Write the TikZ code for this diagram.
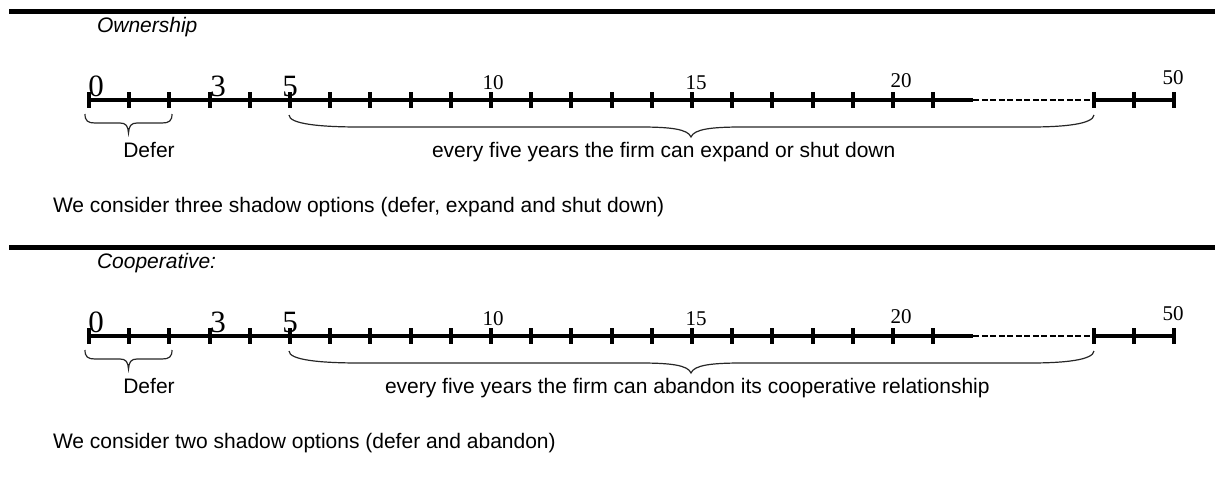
\documentclass[tikz,border=0pt]{standalone}
\usepackage{fontspec}
\setmainfont{Liberation Serif}
\setsansfont{Liberation Sans}
\usepackage{tikz}

\begin{document}
\begin{tikzpicture}[x=1pt,y=-1pt,
  every node/.style={inner sep=0pt, outer sep=0pt},
  rule/.style={line width=4.5pt},
  axis/.style={line width=3.6pt},
  axisdash/.style={line width=2pt, dash pattern=on 6pt off 2.5pt},
  tickmark/.style={line width=4pt},
  curly/.style={line width=1.2pt, black!85},
  bignum/.style={font=\fontsize{31}{31}\selectfont, anchor=base},
  smallnum/.style={font=\fontsize{21}{21}\selectfont, anchor=base},
  txt/.style={font=\sffamily\fontsize{21}{21}\selectfont, anchor=base west},
  ttl/.style={font=\sffamily\itshape\fontsize{21}{21}\selectfont, anchor=base west}]

\useasboundingbox (0,0) rectangle (1215,480);

% ownership
\begin{scope}
  \coordinate (ra) at (9,11.7);
  \coordinate (rb) at (1215,11.7);
  \draw[rule] (ra) -- (rb);
  \node[ttl] (a-title) at (97,32) {Ownership};
  \foreach \k in {0,...,27} \coordinate (a\k) at (89+40.2*\k,100);
  \draw[axis] (a0) -- (a22);
  \draw[axisdash] (a22) -- (a25);
  \draw[axis] (a25) -- (a27);
  \foreach \k in {0,...,21,25,26,27} \draw[tickmark] (a\k) ++(0,-8) -- ++(0,16);
  \node[bignum] (a-n0) at (96,96) {0};
  \node[bignum] (a-n3) at (218,96) {3};
  \node[bignum] (a-n5) at (290,96) {5};
  \node[smallnum] (a-n10) at (493,89) {10};
  \node[smallnum] (a-n15) at (696,89) {15};
  \node[smallnum] (a-n20) at (901,87.5) {20};
  \node[smallnum] (a-n50) at (1173,84) {50};
  % braces
  \draw[curly] (85,114) .. controls (85,121) and (88,123) .. (95,123) -- (120,123)
    .. controls (126,123) and (128,126) .. (128.5,133) .. controls (129,126) and (131,123) .. (137,123)
    -- (162,123) .. controls (169,123) and (172,121) .. (172,114);
  \draw[curly] (289,115) .. controls (289,124) and (320,127) .. (360,127) -- (640,127)
    .. controls (670,127) and (688,129) .. (691,137) .. controls (694,129) and (712,127) .. (742,127)
    -- (1030,127) .. controls (1065,127) and (1093,124) .. (1094,115);
  \node[txt, anchor=base] (a-defer) at (149,157) {Defer};
  \node[txt] (a-what) at (432,157) {every five years the firm can expand or shut down};
  \node[txt] (a-note) at (53,212) {We consider three shadow options (defer, expand and shut down)};
\end{scope}

% cooperative
\begin{scope}[shift={(0,236)}]
  \coordinate (rc) at (9,11.7);
  \coordinate (rd) at (1215,11.7);
  \draw[rule] (rc) -- (rd);
  \node[ttl] (b-title) at (97,32) {Cooperative:};
  \foreach \k in {0,...,27} \coordinate (b\k) at (89+40.2*\k,100);
  \draw[axis] (b0) -- (b22);
  \draw[axisdash] (b22) -- (b25);
  \draw[axis] (b25) -- (b27);
  \foreach \k in {0,...,21,25,26,27} \draw[tickmark] (b\k) ++(0,-8) -- ++(0,16);
  \node[bignum] (b-n0) at (96,96) {0};
  \node[bignum] (b-n3) at (218,96) {3};
  \node[bignum] (b-n5) at (290,96) {5};
  \node[smallnum] (b-n10) at (493,89) {10};
  \node[smallnum] (b-n15) at (696,89) {15};
  \node[smallnum] (b-n20) at (901,87.5) {20};
  \node[smallnum] (b-n50) at (1173,84) {50};
  % braces
  \draw[curly] (85,114) .. controls (85,121) and (88,123) .. (95,123) -- (120,123)
    .. controls (126,123) and (128,126) .. (128.5,133) .. controls (129,126) and (131,123) .. (137,123)
    -- (162,123) .. controls (169,123) and (172,121) .. (172,114);
  \draw[curly] (289,115) .. controls (289,124) and (320,127) .. (360,127) -- (640,127)
    .. controls (670,127) and (688,129) .. (691,137) .. controls (694,129) and (712,127) .. (742,127)
    -- (1030,127) .. controls (1065,127) and (1093,124) .. (1094,115);
  \node[txt, anchor=base] (b-defer) at (149,157) {Defer};
  \node[txt] (b-what) at (385,157) {every five years the firm can abandon its cooperative relationship};
  \node[txt] (b-note) at (53,212) {We consider two shadow options (defer and abandon)};
\end{scope}
\end{tikzpicture}
\end{document}
